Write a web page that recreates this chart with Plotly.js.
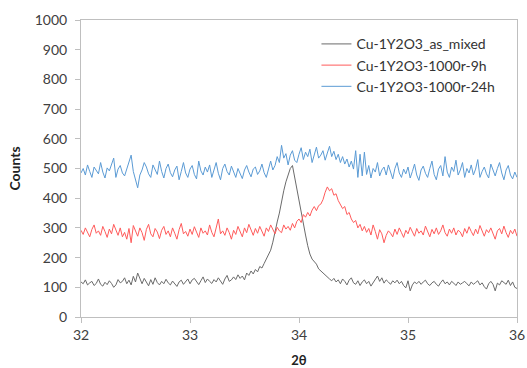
<!DOCTYPE html>
<html>
<head>
<meta charset="utf-8">
<script src="https://cdn.plot.ly/plotly-3.0.1.min.js"></script>
<style>html,body{margin:0;padding:0;background:#fff}#chart{width:527px;height:368px}</style>
</head>
<body>
<div id="chart"></div>
<script>
// 2θ sampling: 32.00 → 36.00, step 0.02
const angleStart = 32;
const angleStep = 0.02;

const seriesNames = ["Cu-1Y2O3_as_mixed", "Cu-1Y2O3-1000r-9h", "Cu-1Y2O3-1000r-24h"];

const asMixed = [
 118,112,125,108,115,120,106,113,128,110,
 104,117,109,122,113,100,108,126,115,120,
 132,112,124,108,137,118,148,128,112,130,
 118,105,126,110,132,116,108,120,112,127,
 115,108,121,113,103,118,124,110,119,128,
 112,125,130,118,109,122,135,116,128,120,
 113,126,118,132,122,110,128,140,120,125,
 135,126,142,130,138,125,148,140,155,145,
 160,152,170,165,180,195,205,225,252,290,
 320,350,395,425,455,478,500,510,470,425,
 395,357,310,276,240,212,195,185,178,162,
 155,148,140,132,128,122,130,118,125,112,
 128,120,108,124,132,115,110,122,106,118,
 125,112,120,104,116,128,138,120,132,114,
 125,118,110,122,115,124,112,120,106,98,
 122,88,108,118,112,120,110,118,124,112,
 106,115,120,110,104,116,125,112,118,108,
 120,114,106,118,110,115,120,112,105,118,
 110,116,122,108,115,102,94,112,120,110,
 88,114,108,122,116,110,124,106,118,100,
 96
];

const r9h = [
 292,278,300,285,270,295,310,282,290,275,
 305,288,268,296,280,312,290,275,300,270,
 285,262,298,250,308,290,272,300,284,258,
 295,312,280,270,298,286,264,292,305,278,
 290,270,300,282,262,294,315,280,288,272,
 296,278,304,286,268,300,282,290,276,310,
 285,270,296,330,280,290,275,300,284,262,
 292,278,305,286,270,300,284,312,290,275,
 298,282,305,290,272,300,288,310,295,280,
 302,290,284,310,296,305,292,315,300,322,
 330,318,345,336,352,340,360,372,358,375,
 380,395,420,438,425,432,410,415,392,380,
 365,372,345,352,330,318,325,300,312,290,
 305,285,298,276,310,288,262,294,280,250,
 275,290,282,270,296,278,300,284,268,292,
 280,302,286,272,298,282,290,276,306,288,
 270,295,280,300,278,290,310,284,272,296,
 282,300,276,292,286,270,298,282,304,288,
 274,296,280,308,290,272,294,284,300,278,
 262,290,298,280,306,284,268,292,280,296,
 272
];

const r24h = [
 485,500,478,512,490,470,505,495,482,520,
 488,468,502,492,515,535,470,498,510,485,
 475,500,520,545,490,465,435,478,495,520,
 505,482,470,512,498,480,525,490,468,500,
 515,486,472,495,508,462,490,520,485,470,
 498,510,480,465,525,492,478,505,488,512,
 470,495,520,484,462,500,515,490,478,508,
 485,470,500,482,466,495,510,488,472,498,
 505,480,492,515,486,470,500,525,495,510,
 540,520,578,535,550,512,545,560,528,520,
 548,570,530,555,540,565,520,550,572,535,
 545,560,528,552,575,540,558,530,548,520,
 540,515,532,505,525,498,560,470,548,475,
 555,480,510,468,500,488,520,475,495,505,
 478,512,490,465,500,520,485,470,498,482,
 505,468,490,515,478,460,495,508,484,470,
 500,525,480,462,498,510,475,540,488,470,
 505,490,528,478,495,520,470,500,485,512,
 478,498,530,470,490,505,482,468,515,492,
 475,500,520,485,462,495,510,478,465,488,
 470
];

const seriesValues = [asMixed, r9h, r24h];
const seriesColors = ["#6b6b6b", "#ff5b5b", "#5b9bd5"];

const twoTheta = asMixed.map((_, i) => +(angleStart + i * angleStep).toFixed(2));

const traces = seriesValues.map((vals, k) => ({
  x: twoTheta,
  y: vals,
  type: "scatter",
  mode: "lines",
  name: seriesNames[k],
  line: { color: seriesColors[k], width: 1 }
}));

const fontFam = "Lato, 'Open Sans', sans-serif";

const layout = {
  width: 527,
  height: 368,
  margin: { l: 81, r: 10, t: 20, b: 51 },
  paper_bgcolor: "#ffffff",
  plot_bgcolor: "#ffffff",
  font: { family: fontFam, color: "#404040", size: 14 },
  showlegend: true,
  legend: {
    x: 0.54, y: 0.972, xanchor: "left", yanchor: "top",
    bgcolor: "rgba(0,0,0,0)",
    font: { family: fontFam, size: 14, color: "#333" },
    tracegroupgap: 0
  },
  xaxis: {
    range: [32, 36],
    tickvals: [32, 33, 34, 35, 36],
    ticktext: ["32", "33", "34", "35", "36"],
    showgrid: false,
    zeroline: false,
    showline: true,
    linecolor: "#bfbfbf",
    linewidth: 1,
    mirror: true,
    ticks: "outside",
    ticklen: 5,
    tickcolor: "#bfbfbf",
    tickfont: { family: fontFam, size: 14, color: "#404040" },
    title: { text: "<b>2θ</b>", font: { family: fontFam, size: 13, color: "#222" }, standoff: 16 }
  },
  yaxis: {
    range: [0, 1000],
    tickvals: [0,100,200,300,400,500,600,700,800,900,1000],
    showgrid: false,
    zeroline: false,
    showline: true,
    linecolor: "#bfbfbf",
    linewidth: 1,
    mirror: true,
    ticks: "outside",
    ticklen: 5,
    ticklabelstandoff: 5,
    tickcolor: "#bfbfbf",
    tickfont: { family: fontFam, size: 14, color: "#404040" },
    title: { text: "<b>Counts</b>", font: { family: fontFam, size: 14, color: "#222" }, standoff: 10 }
  }
};

Plotly.newPlot("chart", traces, layout, { staticPlot: true, displayModeBar: false });
</script>
</body>
</html>
